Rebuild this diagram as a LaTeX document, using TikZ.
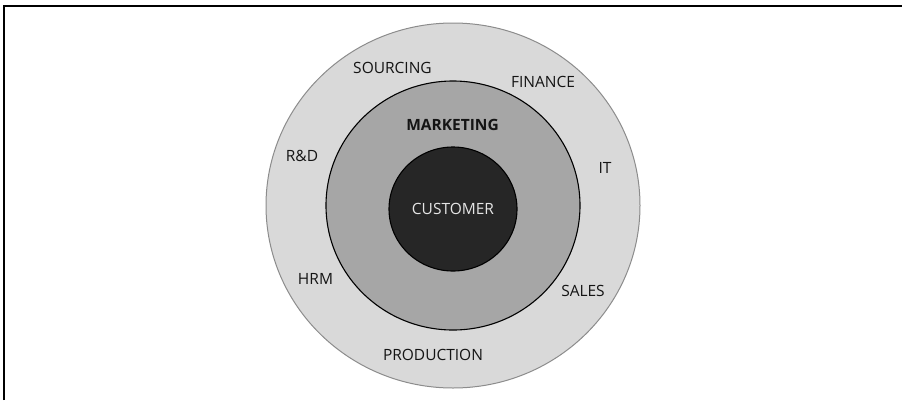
\documentclass[tikz,border=0pt]{standalone}
\usepackage{fontspec}
\setmainfont{Open Sans}
\usetikzlibrary{shapes.geometric}

\definecolor{ringlight}{HTML}{D9D9D9}
\definecolor{ringmid}{HTML}{A6A6A6}
\definecolor{ringdark}{HTML}{262626}
\definecolor{ringedge}{HTML}{8C8C8C}

\begin{document}
\begin{tikzpicture}[x=1pt,y=-1pt,
                    ring/.style={ellipse,draw,inner sep=0pt},
                    dept/.style={font=\fontsize{15.5}{18}\selectfont,text=black!92}]

  \useasboundingbox (0,0) rectangle (902,400);
  \draw[line width=1.6pt] (4,400) -- (4,6) -- (902,6);

  \node[ring,fill=ringlight,draw=ringedge,line width=1pt,
        minimum width=374pt,minimum height=365pt] (outer)  at (453,205.5) {};
  \node[ring,fill=ringmid,line width=1.1pt,
        minimum width=254pt,minimum height=249pt] (middle) at (453,205.5) {};
  \node[ring,fill=ringdark,line width=1.1pt,
        minimum width=128pt,minimum height=124pt] (inner)  at (453,209) {};

  \node[dept,text=white!90!black]  (customer)   at (453,209)   {CUSTOMER};
  \node[dept,font=\fontsize{15.5}{18}\selectfont\bfseries]
                                   (marketing)  at (452.5,124.5) {MARKETING};

  \node[dept] (sourcing)   at (392.5,68)  {SOURCING};
  \node[dept] (finance)    at (543,82)    {FINANCE};
  \node[dept] (rd)         at (302,156)   {R\&D};
  \node[dept] (it)         at (605,168)   {IT};
  \node[dept] (hrm)        at (315.5,278.5) {HRM};
  \node[dept] (sales)      at (583,291)   {SALES};
  \node[dept] (production) at (433,355)   {PRODUCTION};
\end{tikzpicture}
\end{document}
